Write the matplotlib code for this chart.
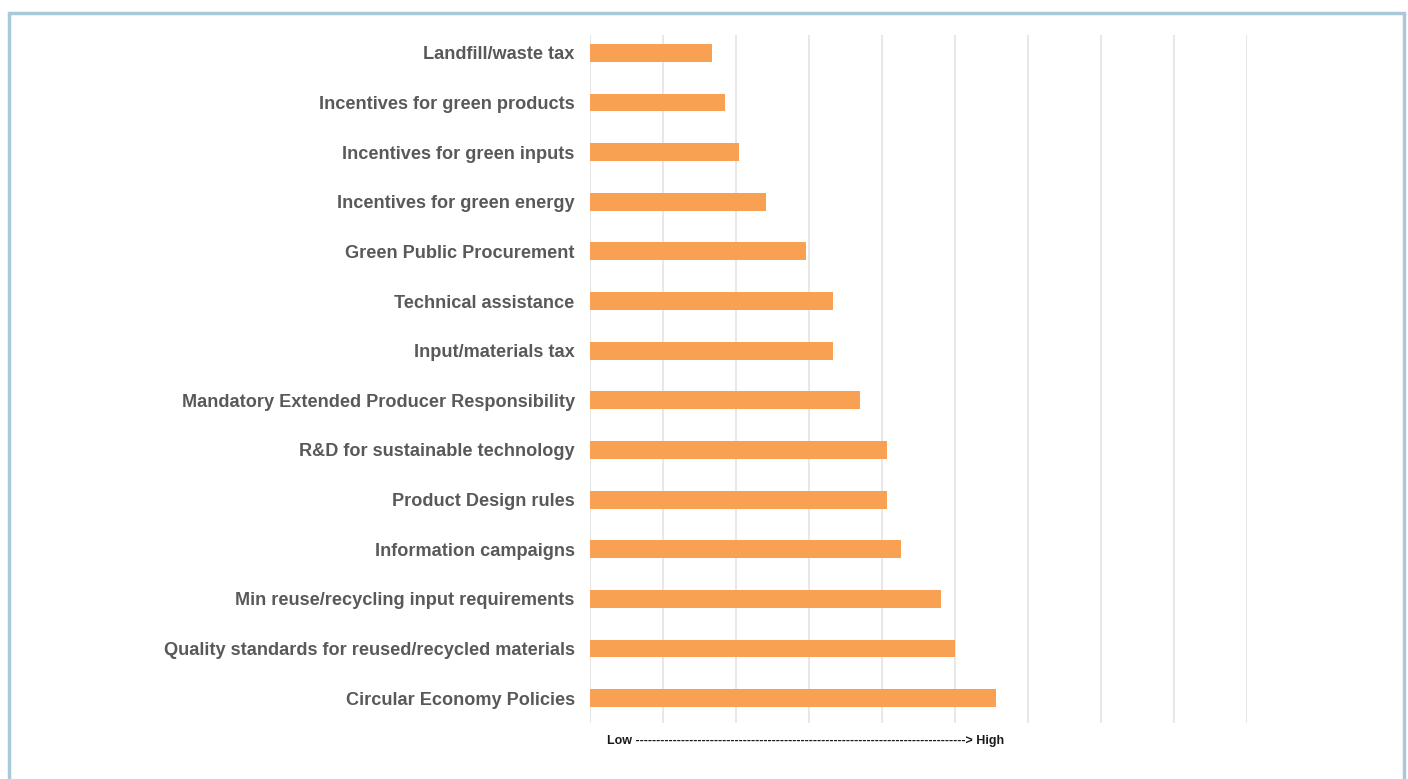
import matplotlib.pyplot as plt
from matplotlib.patches import Rectangle

plt.rcParams['font.family'] = ['Liberation Sans', 'DejaVu Sans']

# policy instruments, top to bottom
policies = [
    'Landfill/waste tax',
    'Incentives for green products',
    'Incentives for green inputs',
    'Incentives for green energy',
    'Green Public Procurement',
    'Technical assistance',
    'Input/materials tax',
    'Mandatory Extended Producer Responsibility',
    'R&D for sustainable technology',
    'Product Design rules',
    'Information campaigns',
    'Min reuse/recycling input requirements',
    'Quality standards for reused/recycled materials',
    'Circular Economy Policies',
]
# share of respondents (%)
scores = [16.7, 18.5, 20.4, 24.1, 29.6, 33.3, 33.3, 37.0, 40.7, 40.7, 42.6, 48.1, 50.0, 55.6]

W, H = 1408, 779
fig = plt.figure(figsize=(W / 100, H / 100), dpi=100)

# plot area (pixels): x 590..1247, y 35..723
ax = fig.add_axes([590 / W, 1 - 723 / H, (1247 - 590) / W, (723 - 35) / H])

y = list(range(len(policies)))
ax.barh(y, scores, height=0.36, color='#F8A152', zorder=3)

ax.set_xlim(0, 90)
ax.set_ylim(13.5, -0.36)
ax.set_xticks(range(0, 91, 10))
ax.set_xticklabels([])
ax.tick_params(axis='x', length=0)
ax.grid(True, axis='x', color='#E6E6E6', linewidth=1.3, zorder=0)

ax.set_yticks(y)
ax.set_yticklabels(policies, fontsize=13.1, fontweight='bold', color='#595959')
ax.tick_params(axis='y', length=0, pad=11)

for s in ax.spines.values():
    s.set_visible(False)

# low -> high scale note under the plot
fig.text(806 / W, 1 - 741 / H, 'Low ' + '-' * 80 + '> High', fontsize=9,
         fontweight='bold', color='#1a1a1a', ha='center', va='center')

# light blue frame around the chart
fig.patches.append(Rectangle((9 / W, -0.05), (1404 - 9) / W, 1.05 - 13 / H,
                             transform=fig.transFigure, fill=False,
                             edgecolor='#A9C9DB', linewidth=2.5))

fig.savefig('out.png', dpi=100, facecolor='white')
